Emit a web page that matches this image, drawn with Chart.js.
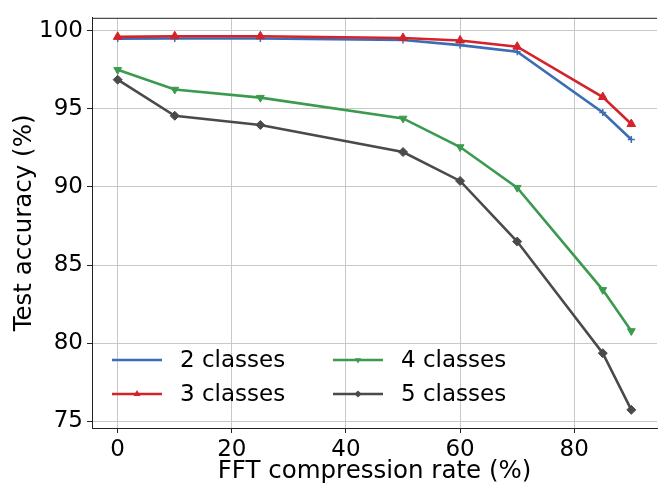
<!DOCTYPE html>
<html>
<head>
<meta charset="utf-8">
<script src="https://cdn.jsdelivr.net/npm/chart.js@4.4.1/dist/chart.umd.min.js"></script>
<style>
  html, body { margin: 0; padding: 0; background: #fff; overflow: hidden; }
  #wrap { position: relative; width: 659px; height: 485px; overflow: hidden; }
  canvas { position: absolute; left: 0; top: 0; }
</style>
</head>
<body>
<div id="wrap"><canvas id="chart" width="663" height="485"></canvas></div>
<script>
// compression rates (%)
const rates = [0, 10, 25, 50, 60, 70, 85, 90];
// test accuracy (%) per number of classes
const acc2 = [99.49, 99.5, 99.5, 99.4, 99.07, 98.65, 94.76, 93.03];
const acc3 = [99.6, 99.64, 99.64, 99.53, 99.37, 98.97, 95.75, 94.02];
const acc4 = [97.49, 96.23, 95.71, 94.38, 92.55, 89.95, 83.41, 80.78];
const acc5 = [96.86, 94.55, 93.96, 92.23, 90.38, 86.5, 79.36, 75.73];
const seriesNames = ["2 classes", "3 classes", "4 classes", "5 classes"];
const xTicks = [0, 20, 40, 60, 80];
const yTicks = [75, 80, 85, 90, 95, 100];

const FONT = "'DejaVu Sans', sans-serif";
const pts = arr => arr.map((v, i) => ({ x: rates[i], y: v }));

const styles = [
  { color: "#3b6db5", pointStyle: "cross", radius: 3.5, rotation: 0, order: 4 },
  { color: "#d3232b", pointStyle: "triangle", radius: 5, rotation: 0, order: 3 },
  { color: "#3b9a4f", pointStyle: "triangle", radius: 4.5, rotation: 180, order: 2 },
  { color: "#4a4a4a", pointStyle: "rectRot", radius: 4.5, rotation: 0, order: 1 }
];

const datasets = [acc2, acc3, acc4, acc5].map((arr, i) => ({
  label: seriesNames[i],
  data: pts(arr),
  borderColor: styles[i].color,
  backgroundColor: styles[i].color,
  borderWidth: 2.6,
  pointStyle: styles[i].pointStyle,
  pointRadius: styles[i].radius,
  pointRotation: styles[i].rotation,
  pointBorderWidth: styles[i].pointStyle === "cross" ? 1.5 : 1,
  tension: 0,
  order: styles[i].order
}));

// top spine + in-plot legend
const extras = {
  id: "extras",
  afterDraw(chart) {
    const ctx = chart.ctx;
    const a = chart.chartArea;
    ctx.save();
    ctx.strokeStyle = "#222";
    ctx.lineWidth = 1;
    ctx.beginPath();
    ctx.moveTo(a.left, a.top + 0.5);
    ctx.lineTo(a.right, a.top + 0.5);
    ctx.stroke();

    // legend, 2 columns
    const cols = [112, 333];
    const rows = [360, 394];
    ctx.font = "23px " + FONT;
    ctx.textBaseline = "middle";
    styles.forEach((s, i) => {
      const x = cols[Math.floor(i / 2)];
      const y = rows[i % 2];
      ctx.strokeStyle = s.color;
      ctx.fillStyle = s.color;
      ctx.lineWidth = 2.6;
      ctx.beginPath();
      ctx.moveTo(x, y);
      ctx.lineTo(x + 50, y);
      ctx.stroke();
      ctx.lineWidth = s.pointStyle === "cross" ? 1.5 : 1;
      Chart.helpers.drawPoint(ctx, { pointStyle: s.pointStyle, radius: s.radius * 0.8, rotation: s.rotation }, x + 25, y);
      ctx.fillStyle = "#000";
      ctx.fillText(seriesNames[i], x + 68, y + 1);
    });
    ctx.restore();
  }
};

new Chart(document.getElementById("chart"), {
  type: "line",
  data: { datasets },
  options: {
    responsive: false,
    animation: false,
    layout: { padding: { top: 12, right: 0, left: 0, bottom: 0 } },
    plugins: { legend: { display: false }, tooltip: { enabled: false } },
    scales: {
      x: {
        type: "linear",
        min: -4.5,
        max: 94.5,
        afterBuildTicks: s => { s.ticks = xTicks.map(v => ({ value: v })); },
        afterFit: s => { s.height = 57; },
        grid: { color: "#c8c8c8", lineWidth: 1, tickLength: 5, tickColor: "#222" },
        border: { color: "#222", width: 1 },
        ticks: { color: "#000", font: { family: FONT, size: 23 }, padding: 3, maxRotation: 0 },
        title: { display: true, text: "FFT compression rate (%)", color: "#000",
                 font: { family: FONT, size: 24.5 }, padding: { top: 0, bottom: -1 } }
      },
      y: {
        type: "linear",
        min: 74.57,
        max: 100.82,
        afterBuildTicks: s => { s.ticks = yTicks.map(v => ({ value: v })); },
        afterFit: s => { s.width = 92; },
        grid: { color: "#c8c8c8", lineWidth: 1, tickLength: 5, tickColor: "#222" },
        border: { color: "#222", width: 1 },
        ticks: { color: "#000", font: { family: FONT, size: 23 }, padding: 4 },
        title: { display: true, text: "Test accuracy (%)", color: "#000",
                 font: { family: FONT, size: 24.5 }, padding: { top: 10, bottom: 0 } }
      }
    }
  },
  plugins: [extras]
});
</script>
</body>
</html>
